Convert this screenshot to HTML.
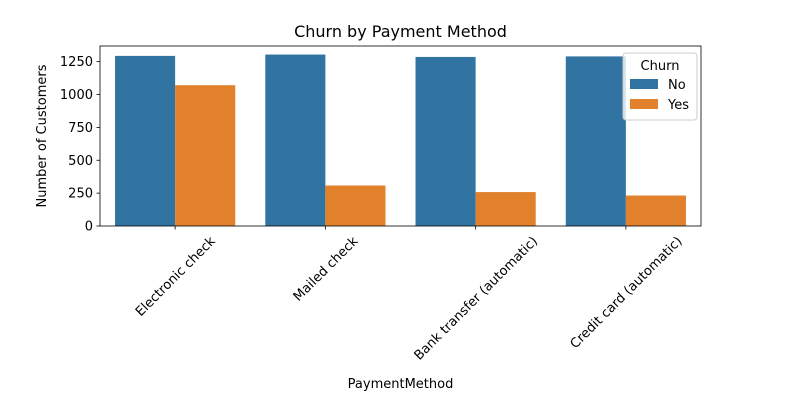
<!DOCTYPE html>
<html><head><meta charset="utf-8"><style>
body{margin:0;background:#fff;font-family:"Liberation Sans","DejaVu Sans",sans-serif;}
svg text{font-family:"DejaVu Sans","Liberation Sans",sans-serif;fill:#000;}
</style></head><body>
<svg id="c" width="800" height="400">
<rect width="800" height="400" fill="#fff"/>
<text x="400.5" y="37" text-anchor="middle" font-size="16">Churn by Payment Method</text>
<g id="plot"></g>
</svg>
<script>
const categories = ["Electronic check","Mailed check","Bank transfer (automatic)","Credit card (automatic)"];
const seriesNo = [1294, 1304, 1286, 1290];
const seriesYes = [1071, 308, 258, 232];
const yTicks = [0, 250, 500, 750, 1000, 1250];
const seriesNames = ["No","Yes"];
const colors = ["#3274a1","#e1812c"];

const NS="http://www.w3.org/2000/svg";
const L=100,R=701,T=46,B=226;
const yMax=Math.max(...seriesNo,...seriesYes)*1.05;
const y=v=>B-(v/yMax)*(B-T);
const band=(R-L)/categories.length;
const xc=i=>L+band*(i+0.5);
const g=document.getElementById('plot');
function mk(tag,attrs,parent){const e=document.createElementNS(NS,tag);for(const k in attrs)e.setAttribute(k,attrs[k]);(parent||g).appendChild(e);return e;}

[seriesNo,seriesYes].forEach((s,si)=>{
  s.forEach((v,i)=>{
    const bw=band*0.4;
    const r=mk('rect',{x:xc(i)-bw+si*bw,y:y(v),width:bw,height:B-y(v),fill:colors[si]});
    
    
  });
});
mk('rect',{x:L,y:T,width:R-L,height:B-T,fill:'none',stroke:'#000','stroke-width':0.8});
yTicks.forEach(t=>{
  mk('line',{x1:L-3.5,x2:L,y1:y(t),y2:y(t),stroke:'#000','stroke-width':0.8});
  const tx=mk('text',{x:L-7,y:y(t)+4.5,'text-anchor':'end','font-size':13});
  tx.textContent=t;
  
  
});
categories.forEach((c,i)=>{
  const x=xc(i);
  mk('line',{x1:x,x2:x,y1:B,y2:B+3.5,stroke:'#000','stroke-width':0.8});
  const tx=mk('text',{x:x,y:0,'text-anchor':'middle','font-size':13});
  tx.textContent=c;
  
  
  const w=tx.getComputedTextLength();
  const h=(w+13)*0.7071;
  const cy=B+8+h/2;
  tx.setAttribute('y',cy+4.5);
  tx.setAttribute('transform',`rotate(-45 ${x} ${cy})`);
});
const yl=mk('text',{x:46,y:136,'text-anchor':'middle','font-size':13,transform:'rotate(-90 46 136)'});
yl.textContent='Number of Customers';


const xl=mk('text',{x:400.5,y:388,'text-anchor':'middle','font-size':13});
xl.textContent='PaymentMethod';


const lg=mk('g',{});


mk('rect',{x:623,y:53,width:74,height:67,fill:'#fff','fill-opacity':0.8,stroke:'#ccc',rx:3},lg);
const lt=mk('text',{x:660,y:70,'text-anchor':'middle','font-size':13},lg);lt.textContent='Churn';
seriesNames.forEach((n,i)=>{
  mk('rect',{x:630,y:79+i*20,width:28,height:10,fill:colors[i]},lg);
  const t=mk('text',{x:668,y:89+i*20,'font-size':13},lg);t.textContent=n;
  
  
});
</script>
</body></html>
